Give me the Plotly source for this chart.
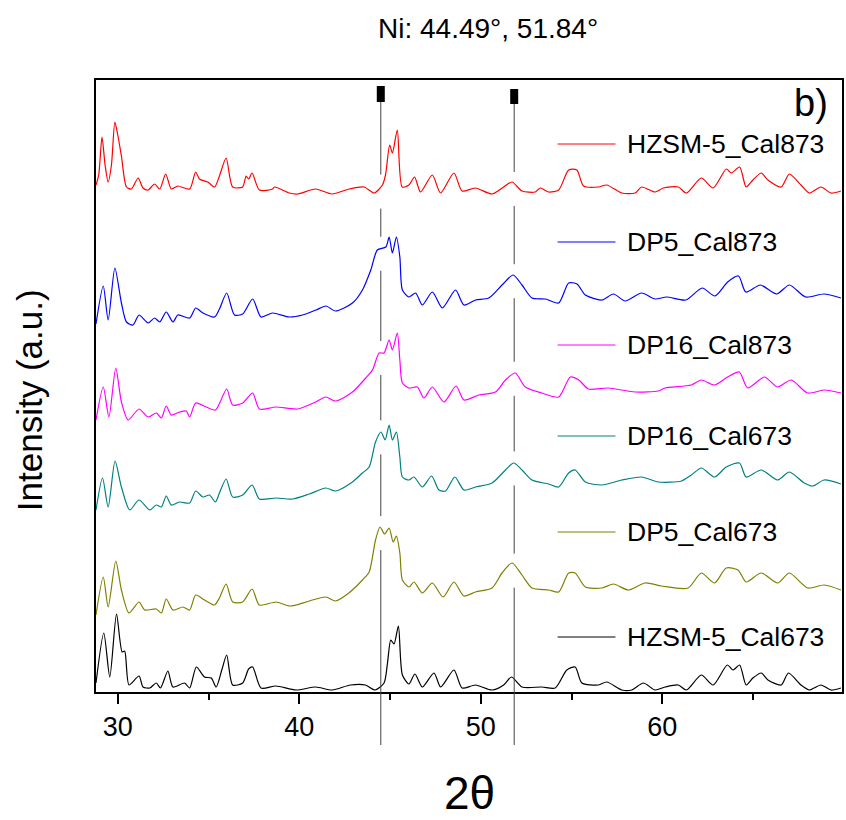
import numpy as np
import plotly.graph_objects as go

# ---------------- data ----------------
series_names = ["HZSM-5_Cal873", "DP5_Cal873", "DP16_Cal873",
                "DP16_Cal673", "DP5_Cal673", "HZSM-5_Cal673"]

x_hzsm873 = [28.8, 28.95, 29.13, 29.3, 29.47, 29.65, 29.84, 30.0, 30.2, 30.48, 30.75, 31.12, 31.39, 31.67,
             32.03, 32.31, 32.64, 32.95, 33.31, 33.96, 34.29, 34.5, 34.96, 35.33, 35.6, 35.97, 36.33,
             36.88, 37.07, 37.21, 37.4, 37.8, 38.53, 38.63, 39.45, 39.9, 40.9, 41.8, 42.75, 43.57,
             44.12, 44.58, 44.75, 44.98, 45.13, 45.4, 45.67, 46.04, 46.35, 46.68, 47.33, 47.78, 48.52,
             48.97, 49.7, 50.62, 51.26, 51.72, 52.27, 53.0, 53.28, 53.74, 54.29, 54.84, 55.29, 55.66,
             56.48, 56.94, 57.77, 58.5, 58.86, 59.6, 60.05, 60.88, 61.33, 62.15, 62.8, 63.53, 63.8,
             64.26, 64.62, 64.99, 65.45, 65.82, 66.55, 67.0, 67.64, 68.1, 68.74, 69.29, 69.84]
y_hzsm873 = [507, 517, 555, 527, 510, 527, 570, 557, 536, 505, 503, 514, 504, 502,
             508, 503, 518, 503, 506, 503, 520, 513, 510, 505, 516, 534, 505,
             505, 516, 513, 519, 502, 503, 505, 499, 498, 503, 498, 503, 505,
             499, 507, 517, 547, 539, 562, 505, 507, 515, 500, 517, 499, 519,
             501, 504, 498, 505, 510, 501, 500, 504, 500, 502, 522, 522, 506,
             505, 507, 499, 499, 505, 500, 504, 505, 499, 514, 504, 523, 519,
             525, 505, 512, 519, 512, 505, 518, 507, 499, 505, 499, 501]

x_dp5_873 = [28.8, 29.2, 29.47, 29.84, 30.2, 30.48, 30.84, 31.17, 31.67, 32.03, 32.31, 32.67, 33.04,
             33.31, 33.96, 34.29, 34.69, 35.33, 35.6, 36.0, 36.43, 36.88, 37.43, 37.89, 38.53, 39.45,
             40.18, 40.92, 41.47, 42.0, 42.93, 43.48, 43.94, 44.3, 44.77, 44.95, 45.13, 45.35, 45.54,
             45.68, 46.04, 46.41, 46.78, 47.33, 47.88, 48.61, 49.07, 49.71, 50.44, 51.17, 51.78, 52.27,
             52.82, 53.56, 54.29, 54.84, 55.3, 55.76, 56.67, 57.31, 57.95, 58.86, 59.6, 60.24, 61.3,
             62.2, 62.9, 63.6, 64.2, 64.6, 65.4, 66.3, 67.0, 67.9, 68.9, 69.84]
y_dp5_873 = [368, 406, 372, 424, 389, 370, 367, 377, 369, 374, 370, 380, 370,
             377, 374, 384, 379, 375, 383, 399, 377, 378, 393, 375, 379, 375,
             377, 382, 386, 381, 389, 402, 422, 442, 445, 455, 439, 455, 435,
             402, 395, 399, 387, 400, 384, 402, 387, 392, 394, 407, 417, 407,
             394, 393, 389, 409, 408, 397, 392, 398, 391, 399, 393, 395, 392,
             404, 396, 410, 416, 400, 407, 398, 407, 395, 398, 394]

x_dp16_873 = [28.8, 29.2, 29.51, 29.89, 30.2, 30.57, 31.17, 31.67, 32.12, 32.4, 32.67, 32.95, 33.4,
              33.77, 33.96, 34.29, 34.87, 35.38, 35.64, 36.0, 36.33, 36.88, 37.43, 37.8, 38.71, 39.9,
              40.9, 41.46, 42.0, 42.93, 43.66, 44.03, 44.4, 44.67, 44.95, 45.13, 45.4, 45.54, 45.68,
              46.04, 46.5, 46.87, 47.33, 47.97, 48.64, 49.07, 49.89, 50.81, 51.36, 51.9, 52.45, 53.37,
              54.29, 54.93, 55.4, 55.93, 57.03, 58.5, 59.78, 60.15, 61.6, 62.15, 62.88, 63.6, 64.24,
              64.7, 65.62, 66.35, 67.1, 68.0, 68.94, 69.84]
y_dp16_873 = [272, 305, 275, 324, 290, 272, 283, 275, 279, 274, 286, 277, 280,
              281, 275, 289, 285, 282, 290, 303, 287, 289, 299, 283, 285, 283,
              290, 295, 291, 300, 314, 322, 339, 339, 352, 342, 359, 332, 309,
              304, 305, 294, 305, 290, 306, 292, 297, 300, 312, 319, 305, 299,
              295, 315, 312, 303, 304, 300, 301, 304, 307, 312, 307, 315, 320,
              304, 315, 305, 312, 299, 302, 299]

x_dp16_673 = [28.8, 29.16, 29.47, 29.85, 30.2, 30.66, 31.17, 31.76, 32.12, 32.4, 32.67, 32.95, 33.4,
              33.96, 34.29, 34.69, 35.05, 35.38, 35.6, 35.97, 36.33, 36.88, 37.4, 37.8, 38.71, 39.63,
              40.55, 41.46, 42.0, 42.93, 43.48, 43.85, 44.2, 44.5, 44.73, 44.95, 45.13, 45.35, 45.54,
              45.68, 46.04, 46.32, 46.78, 47.29, 47.69, 48.06, 48.57, 49.07, 49.71, 50.62, 51.36, 51.81,
              52.27, 52.82, 53.74, 54.29, 54.84, 55.2, 55.76, 56.67, 57.77, 58.86, 59.78, 61.06, 61.6,
              62.15, 62.88, 63.52, 64.25, 64.62, 65.44, 66.35, 67.0, 67.82, 68.28, 68.92, 69.84]
y_dp16_673 = [182, 214, 185, 231, 205, 182, 192, 182, 187, 185, 196, 187, 190,
              189, 201, 195, 197, 190, 199, 213, 195, 197, 207, 193, 194, 193,
              198, 204, 201, 210, 219, 225, 250, 260, 252, 267, 252, 260, 235,
              215, 212, 215, 205, 216, 202, 201, 215, 202, 205, 209, 222, 229,
              222, 212, 208, 205, 219, 222, 210, 207, 212, 215, 210, 211, 217,
              224, 215, 225, 229, 215, 222, 212, 220, 209, 206, 212, 208]

x_dp5_673 = [28.8, 29.2, 29.47, 29.89, 30.2, 30.62, 31.17, 31.48, 32.12, 32.4, 32.67, 33.04, 33.59,
             33.96, 34.29, 34.78, 35.33, 35.6, 35.97, 36.33, 36.88, 37.4, 37.8, 38.71, 39.45, 39.82,
             40.55, 41.46, 42.0, 42.73, 43.48, 43.85, 44.2, 44.45, 44.7, 44.95, 45.17, 45.35, 45.54,
             45.68, 46.04, 46.32, 46.78, 47.33, 47.92, 48.52, 49.07, 49.71, 50.62, 51.17, 51.72, 52.27,
             52.82, 53.74, 54.29, 54.84, 55.2, 55.76, 56.67, 57.31, 58.13, 59.05, 59.96, 61.42, 62.15,
             62.88, 63.52, 64.17, 64.62, 65.44, 66.35, 67.0, 68.0, 68.92, 69.84]
y_dp5_673 = [77, 115, 85, 131, 102, 79, 90, 82, 83, 79, 93, 82, 85,
             82, 97, 92, 87, 94, 108, 90, 90, 103, 87, 90, 86, 87,
             91, 95, 91, 99, 112, 120, 152, 165, 158, 164, 150, 156, 139,
             112, 105, 110, 99, 109, 95, 110, 96, 100, 104, 119, 129, 117,
             104, 102, 100, 119, 119, 105, 104, 108, 102, 109, 106, 104, 119,
             109, 124, 122, 110, 119, 109, 119, 104, 107, 102]

x_hzsm673 = [28.8, 29.23, 29.56, 29.93, 30.24, 30.38, 30.62, 31.17, 31.39, 31.76, 32.12, 32.35, 32.76,
             33.04, 33.68, 33.96, 34.33, 34.78, 35.15, 35.42, 35.73, 36.0, 36.33, 36.88, 37.21, 37.43,
             37.89, 38.71, 39.82, 40.9, 41.81, 42.82, 43.64, 44.18, 44.67, 44.86, 45.04, 45.22, 45.46,
             45.68, 46.04, 46.37, 46.78, 47.42, 47.79, 48.52, 48.97, 49.71, 50.62, 51.26, 51.69, 52.27,
             53.37, 54.1, 54.74, 55.2, 55.57, 56.48, 56.94, 57.77, 58.32, 58.96, 59.6, 60.15, 60.88,
             61.33, 62.15, 62.8, 63.58, 63.9, 64.26, 64.62, 64.99, 65.45, 65.82, 66.55, 66.95, 67.64,
             68.1, 68.74, 69.29, 69.84]
y_hzsm673 = [9, 59, 15, 78, 40, 41, 7, 16, 5, 4, 9, 4, 21,
             5, 9, 4, 25, 15, 14, 5, 22, 37, 7, 9, 23, 25,
             4, 6, 2, 5, 2, 7, 7, 2, 9, 29, 52, 48, 66,
             17, 8, 18, 5, 19, 5, 22, 4, 7, 2, 7, 15, 5,
             5, 4, 22, 25, 9, 7, 10, 2, 2, 9, 2, 5, 7,
             2, 17, 7, 27, 22, 27, 7, 14, 19, 12, 7, 19, 7,
             2, 7, 2, 4]

ni_peaks = [44.49, 51.84]          # Ni reflections (2-theta, degrees)
tick_vals = [30, 40, 50, 60]
minor_tick_vals = [35, 45, 55, 65]

# ---------------- layout constants ----------------
W, H = 846, 820
ML, MR, MT, MB = 96, 2, 80, 128
X_RANGE = [28.8, 69.9]
Y_RANGE = [0, 612]
colors = ["#FF0000", "#0000FF", "#FF00FF", "#008080", "#808000", "#000000"]
label_y = [548, 450, 347, 256, 160, 55]        # vertical position of each key
key_x0, key_x1, label_x = 54.23, 57.42, 57.97
marker_top = [606, 603]
marker_bottom = [590, 588]
gap_above, gap_below = 12, 22
FONT = "Arial, Liberation Sans, sans-serif"

xs = [x_hzsm873, x_dp5_873, x_dp16_873, x_dp16_673, x_dp5_673, x_hzsm673]
ys = [y_hzsm873, y_dp5_873, y_dp16_873, y_dp16_673, y_dp5_673, y_hzsm673]

fig = go.Figure()

for name, x, y, c in zip(series_names, xs, ys, colors):
    fig.add_trace(go.Scatter(x=x, y=y, mode="lines", name=name,
                             line=dict(color=c, width=1.2, shape="spline", smoothing=0.7),
                             showlegend=False))

# Ni reference lines, interrupted around each pattern except the lowest
for p, mt, mb in zip(ni_peaks, marker_top, marker_bottom):
    crossings = sorted([float(np.interp(p, x, y)) for x, y in zip(xs[:-1], ys[:-1])], reverse=True)
    seg_x, seg_y = [], []
    top = mb
    for c in crossings:
        seg_x += [p, p, None]
        seg_y += [top, c + gap_above, None]
        top = c - gap_below
    seg_x += [p, p]
    seg_y += [top, Y_RANGE[0]]
    fig.add_trace(go.Scatter(x=seg_x, y=seg_y, mode="lines",
                             line=dict(color="#444444", width=1), showlegend=False,
                             hoverinfo="skip"))
    fig.add_trace(go.Scatter(x=[p, p], y=[mb, mt], mode="lines",
                             line=dict(color="black", width=8), showlegend=False,
                             hoverinfo="skip"))
    # extension below the x axis
    fig.add_shape(type="line", xref="x", yref="paper", x0=p, x1=p, y0=0,
                  y1=-53 / (H - MT - MB), line=dict(color="#444444", width=1))

# keys and labels
for name, c, ly in zip(series_names, colors, label_y):
    fig.add_shape(type="line", xref="x", yref="y", x0=key_x0, x1=key_x1, y0=ly, y1=ly,
                  line=dict(color=c, width=1))
    fig.add_annotation(x=label_x, y=ly, xref="x", yref="y", text=name, showarrow=False,
                       xanchor="left", yanchor="middle",
                       font=dict(family=FONT, size=26.5, color="black"))

plot_h = H - MT - MB
plot_w = W - ML - MR
fig.add_annotation(text="Ni: 44.49°, 51.84°", xref="paper", yref="paper",
                   x=(489 - ML) / plot_w, y=(H - MB - 28) / plot_h, showarrow=False,
                   xanchor="center", yanchor="middle",
                   font=dict(family=FONT, size=28, color="black"))
fig.add_annotation(text="b)", xref="paper", yref="paper",
                   x=(832 - ML) / plot_w, y=(H - MB - 103) / plot_h, showarrow=False,
                   xanchor="right", yanchor="middle",
                   font=dict(family=FONT, size=38, color="black"))
fig.add_annotation(text="2θ", xref="paper", yref="paper",
                   x=(471 - ML) / plot_w, y=(H - MB - 793) / plot_h, showarrow=False,
                   xanchor="center", yanchor="middle",
                   font=dict(family=FONT, size=46, color="black"))
fig.add_annotation(text="Intensity (a.u.)", xref="paper", yref="paper",
                   x=(30 - ML) / plot_w, y=(H - MB - 400) / plot_h, showarrow=False,
                   xanchor="center", yanchor="middle", textangle=-90,
                   font=dict(family=FONT, size=35, color="black"))

fig.update_layout(
    width=W, height=H,
    margin=dict(l=ML, r=MR, t=MT, b=MB, pad=0),
    paper_bgcolor="white", plot_bgcolor="white",
    showlegend=False,
    xaxis=dict(range=X_RANGE, tickvals=tick_vals, ticks="outside", ticklen=10,
               tickwidth=2, tickcolor="black", showline=True, linewidth=2,
               linecolor="black", mirror=True, showgrid=False, zeroline=False,
               tickfont=dict(family=FONT, size=27, color="black"),
               minor=dict(tickvals=minor_tick_vals, ticks="outside", ticklen=6,
                          tickwidth=2, tickcolor="black", showgrid=False)),
    yaxis=dict(range=Y_RANGE, showticklabels=False, ticks="", showline=True,
               linewidth=2, linecolor="black", mirror=True, showgrid=False,
               zeroline=False),
)

fig.write_html("out.html")
